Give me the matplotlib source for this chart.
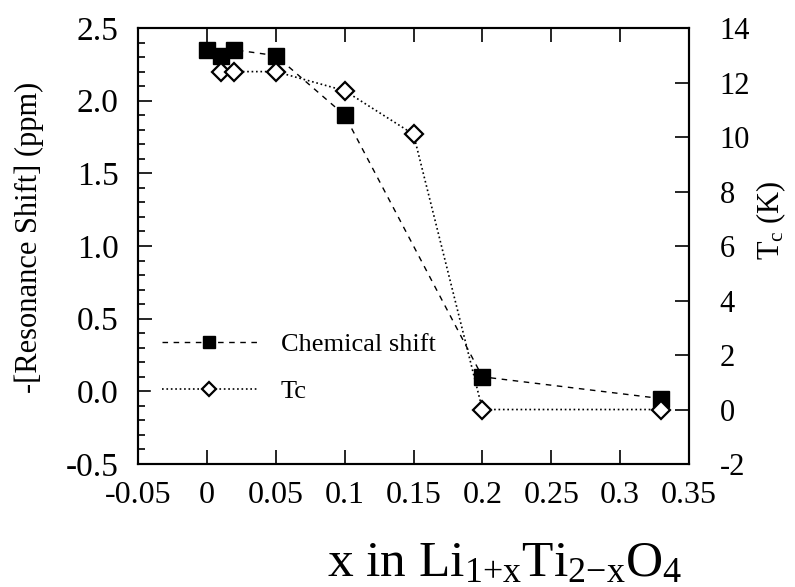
import matplotlib
matplotlib.use("Agg")
import matplotlib.pyplot as plt
from matplotlib.ticker import MultipleLocator

plt.rcParams['font.family'] = ['Liberation Serif', 'DejaVu Serif']
plt.rcParams['mathtext.fontset'] = 'custom'
plt.rcParams['mathtext.rm'] = 'Liberation Serif'
plt.rcParams['mathtext.it'] = 'Liberation Serif:italic'

# chemical shift data
x_shift = [0.0, 0.01, 0.02, 0.05, 0.1, 0.2, 0.33]
shift = [2.35, 2.31, 2.35, 2.31, 1.90, 0.10, -0.05]

# Tc data
x_tc = [0.01, 0.02, 0.05, 0.1, 0.15, 0.2, 0.33]
tc = [12.4, 12.4, 12.4, 11.7, 10.1, 0.0, 0.0]

fig = plt.figure(figsize=(7.95, 5.87), dpi=100)
ax = fig.add_axes([0.1736, 0.2095, 0.6931, 0.7428])
ax2 = ax.twinx()

l1, = ax.plot(x_shift, shift, 'k--', lw=1, dashes=(4, 4), marker='s', ms=11,
              mfc='k', mec='k', label='Chemical shift')
l2, = ax2.plot(x_tc, tc, 'k:', lw=1.2, marker='D', ms=9, mfc='white',
               mec='k', mew=1.6, label='Tc')

ax.set_xlim(-0.05, 0.35)
ax.set_ylim(-0.5, 2.5)
ax2.set_ylim(-2, 14)

ax.yaxis.set_minor_locator(MultipleLocator(0.1))

xt = [-0.05, 0, 0.05, 0.1, 0.15, 0.2, 0.25, 0.3, 0.35]
ax.set_xticks(xt)
ax.set_xticklabels(['-0.05', '0', '0.05', '0.1', '0.15', '0.2', '0.25', '0.3', '0.35'])
yt = [-0.5, 0.0, 0.5, 1.0, 1.5, 2.0, 2.5]
ax.set_yticks(yt)
ax.set_yticklabels(['-0.5', '0.0', '0.5', '1.0', '1.5', '2.0', '2.5'])
yt2 = [-2, 0, 2, 4, 6, 8, 10, 12, 14]
ax2.set_yticks(yt2)
ax2.set_yticklabels([str(v) for v in yt2])

ax.tick_params(axis='x', which='major', direction='in', length=10, width=1.2,
               labelsize=23, top=True, pad=12)
ax.tick_params(axis='y', which='major', direction='in', length=10, width=1.2,
               labelsize=24, pad=14)
ax.tick_params(axis='y', which='minor', direction='in', length=5, width=1.2)
ax2.tick_params(axis='y', which='major', direction='in', length=10, width=1.2,
                labelsize=22, pad=22)

for a in (ax, ax2):
    for s in a.spines.values():
        s.set_linewidth(1.5)

ax.set_xlabel(r'x in Li$_{\mathrm{1{+}x}}$Ti$_{\mathrm{2{-}x}}$O$_{\mathrm{4}}$',
              fontsize=37)
ax.xaxis.set_label_coords(0.665, -0.175)
ax.set_ylabel('-[Resonance Shift] (ppm)', fontsize=22)
ax.yaxis.set_label_coords(-0.17, 0.52)
ax2.set_ylabel(r'T$_{\mathrm{c}}$ (K)', fontsize=22, rotation=90)
ax2.yaxis.set_label_coords(1.118, 0.56)

leg = ax2.legend(handles=[l1, l2], loc='lower left', bbox_to_anchor=(0.0, 0.085),
                 fontsize=19, frameon=True, handlelength=3.6, handletextpad=0.9,
                 labelspacing=0.9, borderaxespad=0.5, markerscale=0.75)
leg.get_frame().set_edgecolor('white')
leg.get_frame().set_facecolor('white')
leg.get_frame().set_alpha(1)

fig.savefig('out.png', dpi=100)
